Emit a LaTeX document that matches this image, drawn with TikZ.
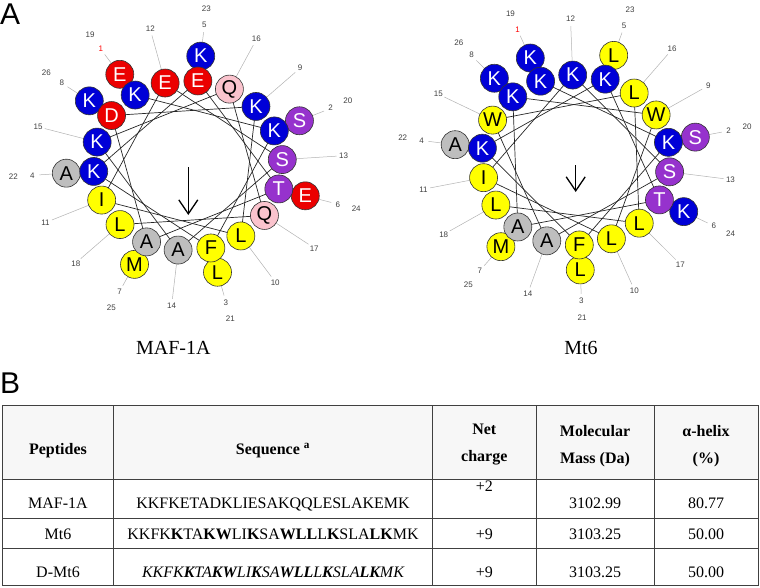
\documentclass[tikz,border=0pt]{standalone}
\usepackage{fontspec}
\setmainfont{Liberation Serif}
\setsansfont{Liberation Sans}
\usetikzlibrary{arrows.meta}
\pgfdeclarelayer{bg}
\pgfsetlayers{bg,main}
\definecolor{resblue}{RGB}{0,0,215}
\definecolor{resred}{RGB}{235,0,0}
\definecolor{resyellow}{RGB}{255,255,0}
\definecolor{resgray}{RGB}{190,190,190}
\definecolor{respink}{RGB}{250,195,205}
\definecolor{respurple}{RGB}{150,50,205}
\tikzset{
 res/.style={circle,draw=black!80,line width=0.6pt,minimum size=28pt,inner sep=0pt,font=\sffamily\fontsize{20}{20}\selectfont},
 aaK/.style={res,fill=resblue,text=white},
 aaE/.style={res,fill=resred,text=white},
 aaD/.style={res,fill=resred,text=white},
 aaS/.style={res,fill=respurple,text=white},
 aaT/.style={res,fill=respurple,text=white},
 aaQ/.style={res,fill=respink,text=black},
 aaA/.style={res,fill=resgray,text=black},
 aaL/.style={res,fill=resyellow,text=black},
 aaI/.style={res,fill=resyellow,text=black},
 aaF/.style={res,fill=resyellow,text=black},
 aaM/.style={res,fill=resyellow,text=black},
 aaW/.style={res,fill=resyellow,text=black},
 lead/.style={draw=black!30,line width=0.5pt},
 chord/.style={draw=black!85,line width=0.7pt},
 num/.style={font=\sffamily\fontsize{8}{9}\selectfont,inner sep=0pt},
 hm/.style={line width=1.3pt,-{Straight Barb[length=14pt,width=19pt]}},
 panel/.style={font=\sffamily\fontsize{30}{30}\selectfont,inner sep=0pt,anchor=base west},
 wcap/.style={font=\fontsize{20}{22}\selectfont,inner sep=0pt,anchor=base},
 tab/.style={draw=black!75,line width=0.9pt},
 hd/.style={font=\bfseries\fontsize{16}{19}\selectfont,inner sep=0pt,anchor=base},
 td/.style={font=\fontsize{16}{19}\selectfont,inner sep=0pt,anchor=base},
}
\newcommand\helwheel[5]{%
 \foreach \n/\rl in {#5}{%
  \pgfmathsetmacro\ang{#4-100*(\n-1)}%
  \ifnum\n>18 \def\wrx{122}\def\wry{110}\else\def\wrx{94.5}\def\wry{85}\fi
  \node[aa\rl] (#1\n) at ({#2+\wrx*cos(\ang)},{#3-\wry*sin(\ang)}) {\rl};
 }
 \foreach \n in {1,...,26}{%
  \pgfmathsetmacro\ang{#4-100*(\n-1)}%
  \ifnum\n>18 \def\wrx{175}\def\wry{158}\else\def\wrx{156}\def\wry{141}\fi
  \ifnum\n=1 \def\nc{red}\else\def\nc{black!75}\fi
  \node[num,text=\nc] (#1n\n) at ({#2+\wrx*cos(\ang)},{#3-\wry*sin(\ang)}) {\n};
 }
 \begin{pgfonlayer}{bg}
 \foreach \n in {1,...,18}{%
  \pgfmathsetmacro\ang{#4-100*(\n-1)}%
  \ifnum\n<9 \pgfmathtruncatemacro\m{\n+18}\else\edef\m{\n}\fi
  \coordinate (#1e\n) at ({#2+149*cos(\ang)},{#3-134*sin(\ang)});
  \draw[lead] (#1\m.center) -- (#1e\n);
 }
 \foreach \n [evaluate=\n as \m using int(\n+1)] in {1,...,17}
   \draw[chord] (#1\n.center) -- (#1\m.center);
 \end{pgfonlayer}
}
\begin{document}
\begin{tikzpicture}[x=1pt,y=-1pt]
\useasboundingbox (0,0) rectangle (760,587);
\node[panel] (pA) at (0,24) {A};
\node[panel] (pB) at (0,393) {B};
% left wheel
\helwheel{L}{188}{165.5}{124}{19/E,20/S,21/L,22/A,23/K,24/E,25/M,26/K,1/K,2/K,3/F,4/K,5/E,6/T,7/A,8/D,9/K,10/L,11/I,12/E,13/S,14/A,15/K,16/Q,17/Q,18/L}
\coordinate (LaS) at (188.3,167);
\coordinate (LaE) at (188.3,215);
\draw[hm] (LaS) -- (LaE);
\node[wcap] (capL) at (173.3,354.3) {MAF-1A};
% right wheel
\helwheel{R}{576}{160}{112}{19/K,20/S,21/L,22/A,23/L,24/K,25/M,26/K,1/K,2/K,3/F,4/K,5/K,6/T,7/A,8/K,9/W,10/L,11/I,12/K,13/S,14/A,15/W,16/L,17/L,18/L}
\coordinate (RaS) at (575.7,165);
\coordinate (RaE) at (575.7,192);
\draw[hm] (RaS) -- (RaE);
\node[wcap] (capR) at (581,354.3) {Mt6};
% table
\fill[black!3] (2.7,405) rectangle (758.3,479);
\draw[tab] (2.7,405) rectangle (758.3,585.7);
\draw[tab] (2.7,479) -- (758.3,479);
\draw[tab] (2.7,518.3) -- (758.3,518.3);
\draw[tab] (2.7,548.3) -- (758.3,548.3);
\draw[tab] (113.3,405) -- (113.3,585.7);
\draw[tab] (432.7,405) -- (432.7,585.7);
\draw[tab] (536,405) -- (536,585.7);
\draw[tab] (654,405) -- (654,585.7);
\node[hd] (hpep) at (58,454.3) {Peptides};
\node[hd] (hseq) at (273,454.3) {Sequence \textsuperscript{a}};
\node[hd] (hnet1) at (484.3,434.5) {Net};
\node[hd] (hnet2) at (484.3,461) {charge};
\node[hd] (hmm1) at (595,436.5) {Molecular};
\node[hd] (hmm2) at (595,463) {Mass (Da)};
\node[hd] (hal1) at (706,436.5) {α-helix};
\node[hd] (hal2) at (706,463) {(\%)};
\node[td] (p1) at (58,508.3) {MAF-1A};
\node[td] (s1) at (273,508.3) {KKFKETADKLIESAKQQLESLAKEMK};
\node[td] (c1) at (484.3,491) {+2};
\node[td] (m1) at (595,508.3) {3102.99};
\node[td] (a1) at (706,508.3) {80.77};
\node[td] (p2) at (58,539) {Mt6};
\node[td] (s2) at (273,539) {KKFK\textbf{K}TA\textbf{KW}LI\textbf{K}SA\textbf{WLL}L\textbf{K}SLA\textbf{LK}MK};
\node[td] (c2) at (484.3,539) {+9};
\node[td] (m2) at (595,539) {3103.25};
\node[td] (a2) at (706,539) {50.00};
\node[td] (p3) at (58,577.7) {D-Mt6};
\node[td] (s3) at (273,577.7) {\itshape KKFK\textbf{K}TA\textbf{KW}LI\textbf{K}SA\textbf{WLL}L\textbf{K}SLA\textbf{LK}MK};
\node[td] (c3) at (484.3,577.7) {+9};
\node[td] (m3) at (595,577.7) {3103.25};
\node[td] (a3) at (706,577.7) {50.00};
\end{tikzpicture}
\end{document}
